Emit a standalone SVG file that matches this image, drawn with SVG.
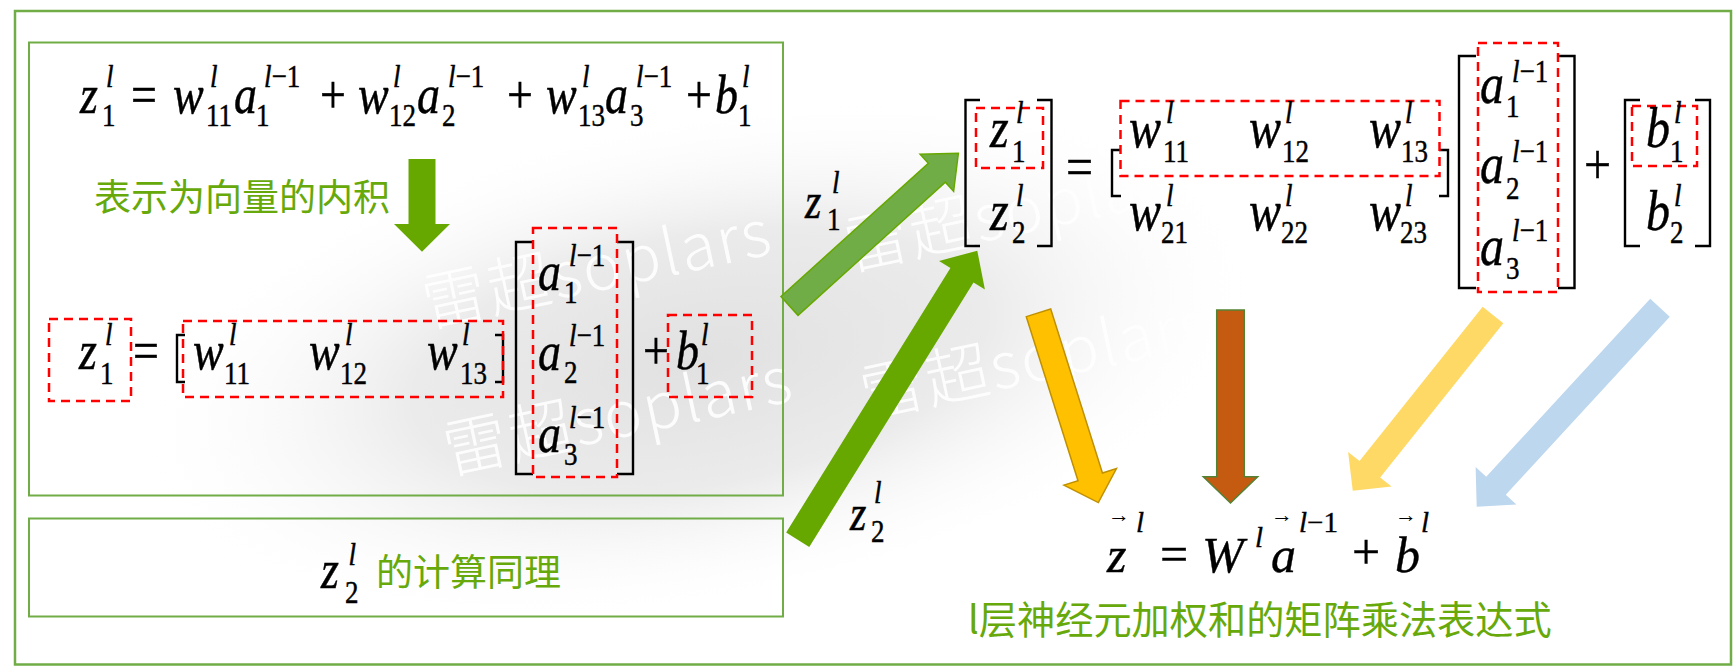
<svg xmlns="http://www.w3.org/2000/svg" width="1733" height="666" viewBox="0 0 1733 666">
<defs>
<radialGradient id="fog" cx="0.5" cy="0.5" r="0.5">
<stop offset="0" stop-color="#e1e1e1"/>
<stop offset="0.5" stop-color="#ebebeb"/>
<stop offset="1" stop-color="#ffffff" stop-opacity="0"/>
</radialGradient>
<style>
.mi{font-family:"Liberation Serif","Times New Roman",serif;font-style:italic;fill:#000;stroke:#000;stroke-width:0.4px}
.mn{font-family:"Liberation Serif","Times New Roman",serif;font-style:normal;fill:#000;stroke:#000;stroke-width:0.4px}
.M{font-size:46px}
.M2{font-size:48px}
.M3{font-size:50px}
.L{font-size:42px}
.S{font-size:27px}
.S2{font-size:29px}
.cn{font-family:"Noto Sans CJK SC","Noto Sans",sans-serif;fill:#67A90A}
.wm{font-family:"Noto Sans CJK SC","Noto Sans",sans-serif;font-size:64px;font-weight:300;letter-spacing:2px;fill:#ffffff;opacity:0.9}
.frame{fill:none;stroke:#70AD47}
.red{fill:none;stroke:#FF0000;stroke-width:2.5;stroke-dasharray:9 6}
.br{fill:none;stroke:#000;stroke-width:2.4}
.arr{font-family:"Liberation Serif",serif;font-size:22px;fill:#000}
</style>
</defs>
<rect x="0" y="0" width="1733" height="666" fill="#ffffff"/>
<ellipse cx="700" cy="360" rx="580" ry="250" fill="url(#fog)" transform="rotate(-10,700,360)"/>
<g id="watermark">
<text class="wm" x="428" y="327" transform="rotate(-12,428,327)">雷超soplars</text>
<text class="wm" x="850" y="270" transform="rotate(-12,850,270)">雷超soplars</text>
<text class="wm" x="449" y="474" transform="rotate(-12,449,474)">雷超soplars</text>
<text class="wm" x="866" y="418" transform="rotate(-12,866,418)">雷超soplars</text>
</g>
<rect class="frame" x="15" y="11" width="1716" height="653.5" stroke-width="2.5"/>

<g id="box1">
<rect class="frame" x="29" y="42.5" width="754" height="453" stroke-width="2"/>
<g transform="translate(0,113) scale(1,1.2)">
<text class="mi M" x="80" y="0">z</text>
<text class="mn M" x="131" y="0">=</text>
<text class="mi M" x="173" y="0">w</text>
<text class="mi M" x="234" y="0">a</text>
<text class="mn M" x="320" y="0">+</text>
<text class="mi M" x="358" y="0">w</text>
<text class="mi M" x="417" y="0">a</text>
<text class="mn M" x="507" y="0">+</text>
<text class="mi M" x="546" y="0">w</text>
<text class="mi M" x="605" y="0">a</text>
<text class="mn M" x="686" y="0">+</text>
<text class="mi M" x="715" y="0">b</text>
<text class="mn S" x="102" y="11">1</text>
<text class="mn S" x="206" y="11">11</text>
<text class="mn S" x="256" y="11">1</text>
<text class="mn S" x="389" y="11">12</text>
<text class="mn S" x="442" y="11">2</text>
<text class="mn S" x="578" y="11">13</text>
<text class="mn S" x="630" y="11">3</text>
<text class="mn S" x="738" y="11">1</text>
<text class="mi S" x="106" y="-22">l</text>
<text class="mi S" x="210" y="-22">l</text>
<text class="mn S" x="264" y="-22"><tspan class="mi">l</tspan>−1</text>
<text class="mi S" x="393" y="-22">l</text>
<text class="mn S" x="448" y="-22"><tspan class="mi">l</tspan>−1</text>
<text class="mi S" x="582" y="-22">l</text>
<text class="mn S" x="636" y="-22"><tspan class="mi">l</tspan>−1</text>
<text class="mi S" x="742" y="-22">l</text>
</g>
<text class="cn" x="94" y="211" font-size="37">表示为向量的内积</text>
<path d="M185,335 H177 V382 H185 M495,335 H503 V382 H495" class="br"/>
<path d="M533,242 H516 V474 H533 M617,242 H633 V474 H617" class="br"/>
<rect class="red" x="49" y="319" width="82" height="82"/>
<rect class="red" x="183" y="321" width="320" height="76"/>
<rect class="red" x="533" y="228" width="84" height="249"/>
<rect class="red" x="668" y="315" width="84" height="82"/>
<g transform="translate(0,369) scale(1,1.2)">
<text class="mi M" x="79" y="0">z</text>
<text class="mn M" x="133" y="0">=</text>
<text class="mi M" x="193" y="0">w</text>
<text class="mi M" x="309" y="0">w</text>
<text class="mi M" x="427" y="0">w</text>
<text class="mn M" x="643" y="0">+</text>
<text class="mi M" x="676" y="0">b</text>
<text class="mn S" x="100" y="12.5">1</text>
<text class="mn S" x="224" y="12.5">11</text>
<text class="mn S" x="340" y="12.5">12</text>
<text class="mn S" x="460" y="12.5">13</text>
<text class="mn S" x="696" y="12.5">1</text>
<text class="mi S" x="105" y="-20">l</text>
<text class="mi S" x="229" y="-20">l</text>
<text class="mi S" x="345" y="-20">l</text>
<text class="mi S" x="462" y="-20">l</text>
<text class="mi S" x="701" y="-20">l</text>
</g>
<g transform="translate(0,290) scale(1,1.2)">
<text class="mi M" x="538" y="0">a</text>
<text class="mn S" x="564" y="11">1</text>
<text class="mn S" x="569" y="-20"><tspan class="mi">l</tspan>−1</text>
</g>
<g transform="translate(0,370) scale(1,1.2)">
<text class="mi M" x="538" y="0">a</text>
<text class="mn S" x="564" y="11">2</text>
<text class="mn S" x="569" y="-20"><tspan class="mi">l</tspan>−1</text>
</g>
<g transform="translate(0,452) scale(1,1.2)">
<text class="mi M" x="538" y="0">a</text>
<text class="mn S" x="564" y="11">3</text>
<text class="mn S" x="569" y="-20"><tspan class="mi">l</tspan>−1</text>
</g>
</g>

<g id="box2">
<rect class="frame" x="29" y="518.5" width="754" height="98" stroke-width="2"/>
<g transform="translate(0,588.3) scale(1,1.2)">
<text class="mi M" x="321" y="0">z</text>
<text class="mn S" x="345" y="12.5">2</text>
<text class="mi S" x="348.5" y="-19.4">l</text>
</g>
<text class="cn" x="376" y="586" font-size="37">的计算同理</text>
</g>

<g id="matrix-form">
<path d="M980,100 H965.5 V246 H980 M1037,100 H1051.5 V246 H1037" class="br"/>
<path d="M1121,150 H1112 V196 H1121 M1439,150 H1448 V196 H1439" class="br"/>
<path d="M1476,56 H1459 V288 H1476 M1558,56 H1574.5 V288 H1558" class="br"/>
<path d="M1640,100 H1625 V246 H1640 M1695,100 H1710 V246 H1695" class="br"/>
<rect class="red" x="976" y="108" width="67" height="60"/>
<rect class="red" x="1120.5" y="101" width="319" height="75"/>
<rect class="red" x="1478" y="43" width="80" height="249"/>
<rect class="red" x="1632" y="106" width="65" height="60"/>
<g transform="translate(0,146.7) scale(1,1.2)">
<text class="mi M2" x="990" y="0">z</text>
<text class="mi M2" x="1129" y="0">w</text>
<text class="mi M2" x="1249" y="0">w</text>
<text class="mi M2" x="1369" y="0">w</text>
<text class="mi M2" x="1646" y="0">b</text>
<text class="mn S" x="1012" y="12.5">1</text>
<text class="mn S" x="1163" y="12.5">11</text>
<text class="mn S" x="1282" y="12.5">12</text>
<text class="mn S" x="1401" y="12.5">13</text>
<text class="mn S" x="1670" y="12.5">1</text>
<text class="mi S" x="1016" y="-20">l</text>
<text class="mi S" x="1166" y="-20">l</text>
<text class="mi S" x="1285" y="-20">l</text>
<text class="mi S" x="1405" y="-20">l</text>
<text class="mi S" x="1674" y="-20">l</text>
</g>
<g transform="translate(0,230) scale(1,1.2)">
<text class="mi M2" x="990" y="0">z</text>
<text class="mi M2" x="1129" y="0">w</text>
<text class="mi M2" x="1249" y="0">w</text>
<text class="mi M2" x="1369" y="0">w</text>
<text class="mi M2" x="1646" y="0">b</text>
<text class="mn S" x="1012" y="10.5">2</text>
<text class="mn S" x="1161" y="10.5">21</text>
<text class="mn S" x="1281" y="10.5">22</text>
<text class="mn S" x="1400" y="10.5">23</text>
<text class="mn S" x="1670" y="10.5">2</text>
<text class="mi S" x="1016" y="-20">l</text>
<text class="mi S" x="1166" y="-20">l</text>
<text class="mi S" x="1285" y="-20">l</text>
<text class="mi S" x="1405" y="-20">l</text>
<text class="mi S" x="1674" y="-20">l</text>
</g>
<g transform="translate(0,186) scale(1,1.2)">
<text class="mn M2" x="1066" y="0">=</text>
<text class="mn M2" x="1584" y="-2">+</text>
</g>
<g transform="translate(0,103.3) scale(1,1.2)">
<text class="mi M2" x="1480" y="0">a</text>
<text class="mn S" x="1506" y="11.5">1</text>
<text class="mn S" x="1512" y="-18"><tspan class="mi">l</tspan>−1</text>
</g>
<g transform="translate(0,183.3) scale(1,1.2)">
<text class="mi M2" x="1480" y="0">a</text>
<text class="mn S" x="1506" y="13">2</text>
<text class="mn S" x="1512" y="-18"><tspan class="mi">l</tspan>−1</text>
</g>
<g transform="translate(0,265) scale(1,1.2)">
<text class="mi M2" x="1480" y="0">a</text>
<text class="mn S" x="1506" y="12">3</text>
<text class="mn S" x="1512" y="-20"><tspan class="mi">l</tspan>−1</text>
</g>
</g>

<g id="vector-form">
<text class="arr" x="1108" y="522">→<tspan class="mi S2" dx="6" dy="9.7">l</tspan></text>
<text class="mi M3" x="1107" y="571.7">z</text>
<text class="mn M3" x="1160" y="571">=</text>
<text class="mi M3" x="1202" y="571.7">W<tspan class="mi S2" x="1255" y="546.7">l</tspan></text>
<text class="arr" x="1271" y="522">→<tspan class="mn S2" dx="6" dy="9.7"><tspan class="mi">l</tspan>−1</tspan></text>
<text class="mi M3" x="1271" y="571.7">a</text>
<text class="mn M3" x="1352" y="569">+</text>
<text class="arr" x="1395" y="522">→<tspan class="mi S2" dx="4" dy="9.7">l</tspan></text>
<text class="mi M3" x="1395" y="571.7">b</text>
<text class="cn" x="968" y="634" font-size="38.2">l层神经元加权和的矩阵乘法表达式</text>
</g>

<g id="label-z1">
<g transform="translate(0,218.3) scale(1,1.2)">
<text class="mi L" x="805" y="0">z</text>
<text class="mn S" x="827" y="9.8">1</text>
<text class="mi S" x="832" y="-21">l</text>
</g>
</g>
<g id="label-z2">
<g transform="translate(0,530) scale(1,1.2)">
<text class="mi L" x="850" y="0">z</text>
<text class="mn S" x="871" y="10.3">2</text>
<text class="mi S" x="874" y="-22.5">l</text>
</g>
</g>

<g id="connectors">
<polygon points="408.5,159 435.5,159 435.5,224 450,224 422,251.7 394,224 408.5,224" fill="#67A800"/>
<polygon transform="translate(789.5,305.9) rotate(-42.1)" points="0,-12.7 198.6,-12.7 198.6,-25 227.6,0 198.6,25 198.6,12.7 0,12.7" fill="#70AD47" stroke="#67A800" stroke-width="1.5"/>
<polygon transform="translate(797.7,539.7) rotate(-58.15)" points="0,-13.6 311.3,-13.6 311.3,-27 340.3,0 311.3,27 311.3,13.6 0,13.6" fill="#67A800"/>
<polygon transform="translate(1038.5,312.8) rotate(72.5)" points="0,-12.8 172,-12.8 172,-27.5 199,0 172,27.5 172,12.8 0,12.8" fill="#FFC000" stroke="#BF9000" stroke-width="1.5"/>
<polygon points="1216.7,310 1244.3,310 1244.3,476.7 1257.7,476.7 1230.5,503 1203.3,476.7 1216.7,476.7" fill="#C55A11" stroke="#548235" stroke-width="1.5"/>
<polygon transform="translate(1493,315) rotate(128.6)" points="0,-13.2 197.4,-13.2 197.4,-27.8 224.8,0 197.4,27.8 197.4,13.2 0,13.2" fill="#FFD966"/>
<polygon transform="translate(1660,307.8) rotate(132.66)" points="0,-13.3 242,-13.3 242,-27.7 270.5,0 242,27.7 242,13.3 0,13.3" fill="#BDD7EE"/>
</g>
</svg>
